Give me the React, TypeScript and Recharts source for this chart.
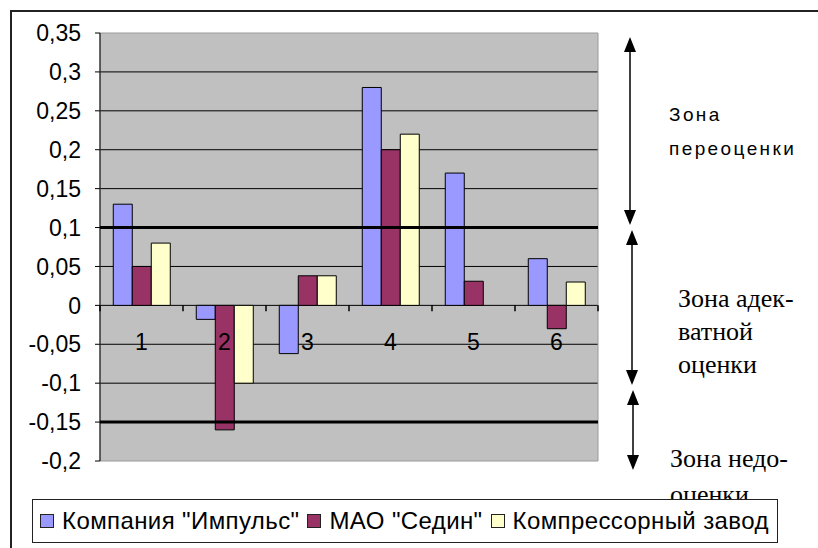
import React from 'react';
import { BarChart, Bar, XAxis, YAxis, CartesianGrid, ReferenceLine, ReferenceArea, Legend } from 'recharts';

const categories = ['1', '2', '3', '4', '5', '6'];
const impulse = [0.13, -0.018, -0.062, 0.28, 0.17, 0.06];
const sedin = [0.05, -0.16, 0.038, 0.2, 0.031, -0.03];
const compressor = [0.08, -0.1, 0.038, 0.22, 0, 0.03];
const seriesNames = ['Компания "Импульс"', 'МАО "Седин"', 'Компрессорный завод'];
const seriesColors = ['#9999ff', '#993366', '#ffffcc'];
const yTicks = [0.35, 0.3, 0.25, 0.2, 0.15, 0.1, 0.05, 0, -0.05, -0.1, -0.15, -0.2];
const gridValues = [0.3, 0.25, 0.2, 0.15, 0.1, 0.05, 0, -0.05, -0.1, -0.15];
const zoneLines = [0.1, -0.15];

const W = 818;
const H = 548;
const X_AXIS_H = 30;
const MARGIN = { top: 33, right: 220, bottom: 87 - X_AXIS_H, left: 0 };
const Y_MIN = -0.2;
const Y_MAX = 0.35;
const PLOT_W = W - 100 - MARGIN.right;
const PLOT_H = H - MARGIN.top - MARGIN.bottom - X_AXIS_H;
const ZERO_Y = MARGIN.top + (PLOT_H * Y_MAX) / (Y_MAX - Y_MIN);
const BAND = PLOT_W / categories.length;

const SANS = '"Liberation Sans", Arial, sans-serif';
const SERIF = '"Liberation Serif", "Times New Roman", serif';

const data = categories.map((c, i) => ({
  name: c,
  impulse: impulse[i],
  sedin: sedin[i],
  compressor: compressor[i],
}));

const fmt = (v: number) => String(Math.round(v * 100) / 100).replace('.', ',');

// category labels sit below the zero line, with Excel-like tick marks between groups
const CategoryTick = (props: any) => {
  const { x, payload, index } = props;
  const left = x - BAND / 2;
  return (
    <g>
      <line x1={left} x2={left} y1={ZERO_Y} y2={ZERO_Y + 6} stroke="#000" strokeWidth={1.5} />
      {index === categories.length - 1 && (
        <line x1={left + BAND} x2={left + BAND} y1={ZERO_Y} y2={ZERO_Y + 6} stroke="#000" strokeWidth={1.5} />
      )}
      <text x={x} y={ZERO_Y + 45} textAnchor="middle" fontSize={23} fontFamily={SANS} fill="#000">
        {payload.value}
      </text>
    </g>
  );
};

const LegendBox = () => (
  <div
    style={{
      boxSizing: 'border-box',
      width: 746,
      height: 44,
      border: '1.5px solid #222',
      background: '#fff',
      display: 'flex',
      alignItems: 'center',
      paddingLeft: 7,
      fontFamily: SANS,
      fontSize: 24,
      letterSpacing: 0.4,
      color: '#000',
      whiteSpace: 'nowrap',
    }}
  >
    {seriesNames.map((name, i) => (
      <span key={name} style={{ display: 'inline-flex', alignItems: 'center', marginRight: 8 }}>
        <span
          style={{
            display: 'inline-block',
            boxSizing: 'border-box',
            width: 14,
            height: 14,
            background: seriesColors[i],
            border: '1.5px solid #222',
            marginRight: 8,
          }}
        />
        {name}
      </span>
    ))}
  </div>
);

const Arrow = ({ x, y1, y2 }: { x: number; y1: number; y2: number }) => (
  <g fill="#000">
    <line x1={x} x2={x} y1={y1 + 10} y2={y2 - 10} stroke="#000" strokeWidth={1.5} />
    <polygon points={`${x},${y1} ${x - 6},${y1 + 15} ${x + 6},${y1 + 15}`} />
    <polygon points={`${x},${y2} ${x - 6},${y2 - 15} ${x + 6},${y2 - 15}`} />
  </g>
);

export default function App() {
  return (
    <div style={{ position: 'relative', width: W, height: H, background: '#fff', overflow: 'hidden' }}>
      <style>{'body{margin:0}'}</style>
      <div
        style={{
          position: 'absolute',
          left: 10,
          top: 10,
          width: W,
          height: H,
          borderTop: '2px solid #222',
          borderLeft: '2px solid #222',
        }}
      />
      <svg width={W} height={H} style={{ position: 'absolute', left: 0, top: 0 }}>
        <Arrow x={630} y1={37} y2={225} />
        <Arrow x={632} y1={230} y2={385} />
        <Arrow x={633} y1={390} y2={470} />
        <g fontFamily={SANS} fontSize={19} letterSpacing={2.4} fill="#000">
          <text x={669} y={121}>Зона</text>
          <text x={669} y={155}>переоценки</text>
        </g>
        <g fontFamily={SERIF} fontSize={26} fill="#000">
          <text x={678} y={307}>Зона адек-</text>
          <text x={678} y={340}>ватной</text>
          <text x={678} y={373}>оценки</text>
          <text x={670} y={467}>Зона недо-</text>
          <text x={670} y={503}>оценки</text>
        </g>
      </svg>
      <BarChart
        width={W}
        height={H}
        data={data}
        margin={MARGIN}
        barCategoryGap="16%"
        barGap={0}
        style={{ position: 'relative' }}
      >
        <CartesianGrid
          horizontal
          vertical={false}
          stroke="#000"
          strokeWidth={1}
          fill="#c0c0c0"
          fillOpacity={1}
          horizontalValues={gridValues}
        />
        <ReferenceArea y1={Y_MIN} y2={Y_MAX} fill="none" stroke="#9a9a9a" strokeWidth={1} />
        <YAxis
          width={100}
          domain={[Y_MIN, Y_MAX]}
          ticks={yTicks}
          interval={0}
          tickFormatter={fmt}
          axisLine={{ stroke: '#000' }}
          tickLine={{ stroke: '#000' }}
          tickSize={5}
          tickMargin={14}
          tick={{ fill: '#000', fontSize: 23, fontFamily: SANS }}
          allowDataOverflow
        />
        <Bar dataKey="impulse" name={seriesNames[0]} fill={seriesColors[0]} stroke="#000" strokeWidth={1} isAnimationActive={false} />
        <Bar dataKey="sedin" name={seriesNames[1]} fill={seriesColors[1]} stroke="#000" strokeWidth={1} isAnimationActive={false} />
        <Bar dataKey="compressor" name={seriesNames[2]} fill={seriesColors[2]} stroke="#000" strokeWidth={1} isAnimationActive={false} />
        {zoneLines.map((v) => (
          <ReferenceLine key={v} y={v} stroke="#000" strokeWidth={3} />
        ))}
        <XAxis
          dataKey="name"
          height={X_AXIS_H}
          axisLine={false}
          tickLine={false}
          interval={0}
          tick={<CategoryTick />}
        />
        <Legend
          layout="horizontal"
          verticalAlign="middle"
          align="center"
          content={<LegendBox />}
          wrapperStyle={{ left: 32, top: 499, width: 746, height: 44 }}
        />
      </BarChart>
    </div>
  );
}
